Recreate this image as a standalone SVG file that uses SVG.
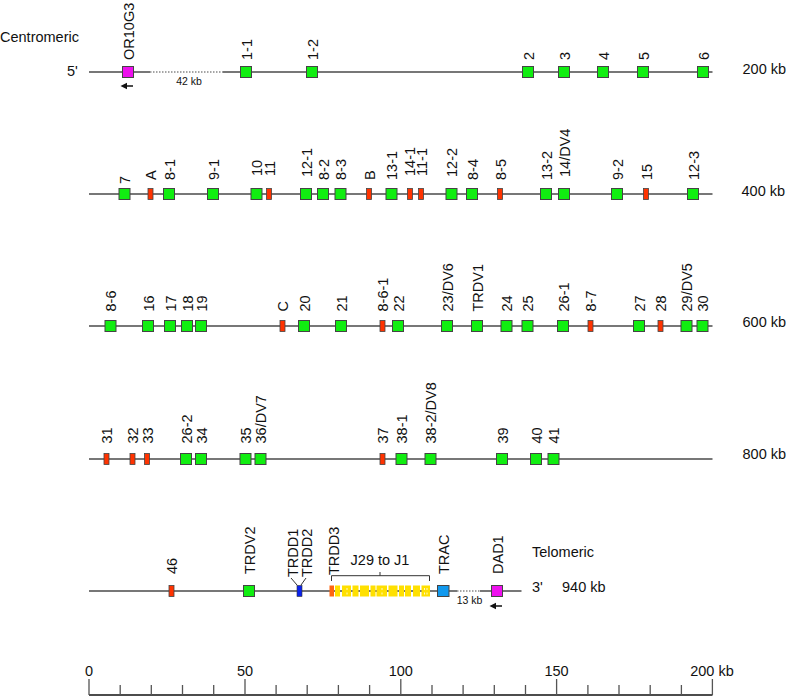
<svg xmlns="http://www.w3.org/2000/svg" width="786" height="696" viewBox="0 0 786 696">
<style>
text{font-family:"Liberation Sans",Arial,sans-serif;font-size:14.5px;fill:#111}
.sm{font-size:10.5px}
.ln{stroke:#4a4a4a;stroke-width:1.3;fill:none}
.dot{stroke:#888;stroke-width:1.3;stroke-dasharray:1.5 1.5;fill:none}
.g{fill:#11ee11;stroke:#444;stroke-width:1}
.r{fill:#ff3300;stroke:#444;stroke-width:0.8}
.m{fill:#ee11ee;stroke:#444;stroke-width:1}
.b{fill:#0a22ee;stroke:#333;stroke-width:0.6}
.o{fill:#ff6611;stroke:none}
.y{fill:#ffe000;stroke:none}
.c{fill:#1199ee;stroke:#444;stroke-width:1}
.tk{stroke:#555;stroke-width:1.3}
.ax{stroke:#111;stroke-width:1.3}
.br{stroke:#333;stroke-width:1;fill:none}
.arr{stroke:#111;stroke-width:1.5;fill:none}
</style>

<g id="connectors">
<line class="ln" x1="89" y1="72" x2="150" y2="72"/>
<line class="dot" x1="150" y1="72" x2="223" y2="72"/>
<line class="ln" x1="223" y1="72" x2="712.5" y2="72"/>
<line class="ln" x1="89" y1="194" x2="712.5" y2="194"/>
<line class="ln" x1="89" y1="326" x2="712.5" y2="326"/>
<line class="ln" x1="89" y1="459" x2="712.5" y2="459"/>
<line class="ln" x1="89" y1="591" x2="457" y2="591"/>
<line class="dot" x1="457" y1="591" x2="480" y2="591"/>
<line class="ln" x1="480" y1="591" x2="521.5" y2="591"/>
<line class="arr" x1="133" y1="86" x2="126" y2="86"/>
<path d="M120.5,86 L127,82.8 L127,89.2 Z" fill="#111"/>
<line class="arr" x1="502" y1="606" x2="496" y2="606"/>
<path d="M489.5,606 L496,602.8 L496,609.2 Z" fill="#111"/>
<line class="br" x1="291" y1="578" x2="297" y2="585"/>
<line class="br" x1="306" y1="578" x2="301" y2="585"/>
<path class="br" d="M331.5,581 V575.7 H429.5 V581 M380,575.7 V572"/>
</g>

<g id="labels">
<text x="0" y="41.7">Centromeric</text>
<text x="67" y="75.5">5'</text>
<text x="742.5" y="74">200 kb</text>
<text x="741.5" y="196">400 kb</text>
<text x="742.5" y="327">600 kb</text>
<text x="742.5" y="459">800 kb</text>
<text x="532" y="557">Telomeric</text>
<text x="532" y="592">3'</text>
<text x="562" y="592">940 kb</text>
<text class="sm" x="189" y="85" text-anchor="middle">42 kb</text>
<text class="sm" x="469.5" y="603.5" text-anchor="middle">13 kb</text>
<text x="380" y="565" text-anchor="middle">J29 to J1</text>
</g>

<g id="row1">
<g id="OR10G3"><rect class="m" x="122.5" y="66.5" width="11" height="11"/><text transform="translate(133.5,60) rotate(-90)">OR10G3</text></g>
<g id="V1-1"><rect class="g" x="240.5" y="66.5" width="11" height="11"/><text transform="translate(251.5,60) rotate(-90)">1-1</text></g>
<g id="V1-2"><rect class="g" x="306.5" y="66.5" width="11" height="11"/><text transform="translate(317.5,60) rotate(-90)">1-2</text></g>
<g id="V2"><rect class="g" x="522.5" y="66.5" width="11" height="11"/><text transform="translate(533.5,60) rotate(-90)">2</text></g>
<g id="V3"><rect class="g" x="558.5" y="66.5" width="11" height="11"/><text transform="translate(569.5,60) rotate(-90)">3</text></g>
<g id="V4"><rect class="g" x="597.5" y="66.5" width="11" height="11"/><text transform="translate(608.5,60) rotate(-90)">4</text></g>
<g id="V5"><rect class="g" x="637.5" y="66.5" width="11" height="11"/><text transform="translate(648.5,60) rotate(-90)">5</text></g>
<g id="V6"><rect class="g" x="697.5" y="66.5" width="11" height="11"/><text transform="translate(708.5,60) rotate(-90)">6</text></g>
</g>

<g id="row2">
<g id="V7"><rect class="g" x="119" y="188.5" width="11" height="11"/><text transform="translate(130,184) rotate(-90)">7</text></g>
<g id="VA"><rect class="r" x="148" y="188.5" width="5" height="11"/><text transform="translate(156,180) rotate(-90)">A</text></g>
<g id="V8-1"><rect class="g" x="163.5" y="188.5" width="11" height="11"/><text transform="translate(174.5,180) rotate(-90)">8-1</text></g>
<g id="V9-1"><rect class="g" x="207.5" y="188.5" width="11" height="11"/><text transform="translate(218.5,180) rotate(-90)">9-1</text></g>
<g id="V10"><rect class="g" x="251" y="188.5" width="11" height="11"/><text transform="translate(262,176) rotate(-90)">10</text></g>
<g id="V11"><rect class="r" x="266.5" y="188.5" width="5" height="11"/><text transform="translate(275,176) rotate(-90)">11</text></g>
<g id="V12-1"><rect class="g" x="300.5" y="188.5" width="11" height="11"/><text transform="translate(311.5,177) rotate(-90)">12-1</text></g>
<g id="V8-2"><rect class="g" x="317.5" y="188.5" width="11" height="11"/><text transform="translate(328.5,180) rotate(-90)">8-2</text></g>
<g id="V8-3"><rect class="g" x="335" y="188.5" width="11" height="11"/><text transform="translate(346,180) rotate(-90)">8-3</text></g>
<g id="VB"><rect class="r" x="366.5" y="188.5" width="5" height="11"/><text transform="translate(374.5,180) rotate(-90)">B</text></g>
<g id="V13-1"><rect class="g" x="386" y="188.5" width="11" height="11"/><text transform="translate(397,180) rotate(-90)">13-1</text></g>
<g id="V14-1"><rect class="r" x="407.5" y="188.5" width="5" height="11"/><text transform="translate(415,176) rotate(-90)">14-1</text></g>
<g id="V11-1"><rect class="r" x="418.5" y="188.5" width="5" height="11"/><text transform="translate(426.5,176) rotate(-90)">11-1</text></g>
<g id="V12-2"><rect class="g" x="446" y="188.5" width="11" height="11"/><text transform="translate(457,177) rotate(-90)">12-2</text></g>
<g id="V8-4"><rect class="g" x="466.5" y="188.5" width="11" height="11"/><text transform="translate(477.5,180) rotate(-90)">8-4</text></g>
<g id="V8-5"><rect class="r" x="497.5" y="188.5" width="5" height="11"/><text transform="translate(505.5,180) rotate(-90)">8-5</text></g>
<g id="V13-2"><rect class="g" x="540.5" y="188.5" width="11" height="11"/><text transform="translate(551.5,180) rotate(-90)">13-2</text></g>
<g id="V14DV4"><rect class="g" x="558.5" y="188.5" width="11" height="11"/><text transform="translate(569.5,177) rotate(-90)">14/DV4</text></g>
<g id="V9-2"><rect class="g" x="611.5" y="188.5" width="11" height="11"/><text transform="translate(622.5,180) rotate(-90)">9-2</text></g>
<g id="V15"><rect class="r" x="643.5" y="188.5" width="5" height="11"/><text transform="translate(651.5,180) rotate(-90)">15</text></g>
<g id="V12-3"><rect class="g" x="687.5" y="188.5" width="11" height="11"/><text transform="translate(698.5,180) rotate(-90)">12-3</text></g>
</g>

<g id="row3">
<g id="V8-6"><rect class="g" x="105" y="320.5" width="11" height="11"/><text transform="translate(116,311.5) rotate(-90)">8-6</text></g>
<g id="V16"><rect class="g" x="142.5" y="320.5" width="11" height="11"/><text transform="translate(153.5,311.5) rotate(-90)">16</text></g>
<g id="V17"><rect class="g" x="164.5" y="320.5" width="11" height="11"/><text transform="translate(175.5,311.5) rotate(-90)">17</text></g>
<g id="V18"><rect class="g" x="181.5" y="320.5" width="11" height="11"/><text transform="translate(192.5,311.5) rotate(-90)">18</text></g>
<g id="V19"><rect class="g" x="195.5" y="320.5" width="11" height="11"/><text transform="translate(206.5,311.5) rotate(-90)">19</text></g>
<g id="VC"><rect class="r" x="280" y="320.5" width="5" height="11"/><text transform="translate(288,311.5) rotate(-90)">C</text></g>
<g id="V20"><rect class="g" x="298.5" y="320.5" width="11" height="11"/><text transform="translate(309.5,311.5) rotate(-90)">20</text></g>
<g id="V21"><rect class="g" x="335.5" y="320.5" width="11" height="11"/><text transform="translate(346.5,311.5) rotate(-90)">21</text></g>
<g id="V8-6-1"><rect class="r" x="380" y="320.5" width="5" height="11"/><text transform="translate(388,311.5) rotate(-90)">8-6-1</text></g>
<g id="V22"><rect class="g" x="392.5" y="320.5" width="11" height="11"/><text transform="translate(403.5,311.5) rotate(-90)">22</text></g>
<g id="V23DV6"><rect class="g" x="441.5" y="320.5" width="11" height="11"/><text transform="translate(452.5,311.5) rotate(-90)">23/DV6</text></g>
<g id="TRDV1"><rect class="g" x="471.5" y="320.5" width="11" height="11"/><text transform="translate(482.5,311.5) rotate(-90)">TRDV1</text></g>
<g id="V24"><rect class="g" x="501" y="320.5" width="11" height="11"/><text transform="translate(512,311.5) rotate(-90)">24</text></g>
<g id="V25"><rect class="g" x="522" y="320.5" width="11" height="11"/><text transform="translate(533,311.5) rotate(-90)">25</text></g>
<g id="V26-1"><rect class="g" x="557.5" y="320.5" width="11" height="11"/><text transform="translate(568.5,311.5) rotate(-90)">26-1</text></g>
<g id="V8-7"><rect class="r" x="588" y="320.5" width="5" height="11"/><text transform="translate(596,311.5) rotate(-90)">8-7</text></g>
<g id="V27"><rect class="g" x="633.5" y="320.5" width="11" height="11"/><text transform="translate(644.5,311.5) rotate(-90)">27</text></g>
<g id="V28"><rect class="r" x="658" y="320.5" width="5" height="11"/><text transform="translate(666,311.5) rotate(-90)">28</text></g>
<g id="V29DV5"><rect class="g" x="681" y="320.5" width="11" height="11"/><text transform="translate(692,311.5) rotate(-90)">29/DV5</text></g>
<g id="V30"><rect class="g" x="697" y="320.5" width="11" height="11"/><text transform="translate(708,311.5) rotate(-90)">30</text></g>
</g>

<g id="row4">
<g id="V31"><rect class="r" x="104" y="453.5" width="5" height="11"/><text transform="translate(112,443.5) rotate(-90)">31</text></g>
<g id="V32"><rect class="r" x="130" y="453.5" width="5" height="11"/><text transform="translate(138,443.5) rotate(-90)">32</text></g>
<g id="V33"><rect class="r" x="144.5" y="453.5" width="5" height="11"/><text transform="translate(152.5,443.5) rotate(-90)">33</text></g>
<g id="V26-2"><rect class="g" x="180.5" y="453.5" width="11" height="11"/><text transform="translate(191.5,443.5) rotate(-90)">26-2</text></g>
<g id="V34"><rect class="g" x="195.5" y="453.5" width="11" height="11"/><text transform="translate(206.5,443.5) rotate(-90)">34</text></g>
<g id="V35"><rect class="g" x="240" y="453.5" width="11" height="11"/><text transform="translate(251,443.5) rotate(-90)">35</text></g>
<g id="V36DV7"><rect class="g" x="255" y="453.5" width="11" height="11"/><text transform="translate(266,443.5) rotate(-90)">36/DV7</text></g>
<g id="V37"><rect class="r" x="380" y="453.5" width="5" height="11"/><text transform="translate(388,443.5) rotate(-90)">37</text></g>
<g id="V38-1"><rect class="g" x="396" y="453.5" width="11" height="11"/><text transform="translate(407,443.5) rotate(-90)">38-1</text></g>
<g id="V38-2DV8"><rect class="g" x="425" y="453.5" width="11" height="11"/><text transform="translate(436,443.5) rotate(-90)">38-2/DV8</text></g>
<g id="V39"><rect class="g" x="496.5" y="453.5" width="11" height="11"/><text transform="translate(507.5,443.5) rotate(-90)">39</text></g>
<g id="V40"><rect class="g" x="530.5" y="453.5" width="11" height="11"/><text transform="translate(541.5,443.5) rotate(-90)">40</text></g>
<g id="V41"><rect class="g" x="548" y="453.5" width="11" height="11"/><text transform="translate(559,443.5) rotate(-90)">41</text></g>
</g>

<g id="row5">
<g id="V46"><rect class="r" x="169" y="585.5" width="5" height="11"/><text transform="translate(177,574) rotate(-90)">46</text></g>
<g id="TRDV2"><rect class="g" x="243.5" y="585.5" width="11" height="11"/><text transform="translate(254.5,574) rotate(-90)">TRDV2</text></g>
<g id="TRDD1-2"><rect class="b" x="297" y="585.5" width="5" height="11"/><text transform="translate(297.5,577) rotate(-90)">TRDD1</text><text transform="translate(311.5,577) rotate(-90)">TRDD2</text></g>
<g id="TRDD3"><rect class="o" x="329.5" y="585.5" width="4.5" height="11"/><text transform="translate(338.5,575) rotate(-90)">TRDD3</text></g>
<g id="J29toJ1">
<rect class="y" x="335" y="585.5" width="5" height="11"/>
<rect class="y" x="342" y="585.5" width="9" height="11"/>
<rect class="y" x="352.5" y="585.5" width="6" height="11"/>
<rect class="y" x="360" y="585.5" width="9" height="11"/>
<rect class="y" x="370.5" y="585.5" width="5" height="11"/>
<rect class="y" x="376.5" y="585.5" width="10.5" height="11"/>
<rect class="y" x="388.5" y="585.5" width="9" height="11"/>
<rect class="y" x="399" y="585.5" width="5" height="11"/>
<rect class="y" x="405" y="585.5" width="6" height="11"/>
<rect class="y" x="413" y="585.5" width="7" height="11"/>
<rect class="y" x="421.5" y="585.5" width="8.5" height="11"/>
<path d="M347,588 v2 M347,592.5 v2 M382,588 v2 M382,592.5 v2 M424.5,588 v2 M424.5,592.5 v2 M427,588 v2 M427,592.5 v2" stroke="#fff" stroke-width="0.8"/>
</g>
<g id="TRAC"><rect class="c" x="437.5" y="585.5" width="11.5" height="11"/><text transform="translate(449,574) rotate(-90)">TRAC</text></g>
<g id="DAD1"><rect class="m" x="491.5" y="585.5" width="11" height="11"/><text transform="translate(502.5,574) rotate(-90)">DAD1</text></g>
</g>

<g id="axis">
<line class="ax" x1="89" y1="695" x2="712.5" y2="695"/>
<path class="tk" d="M89,679 V695 M245,679 V695 M400.8,679 V695 M556.6,679 V695 M712.4,679 V695 M120.2,685 V695 M151.3,685 V695 M182.5,685 V695 M213.7,685 V695 M276.1,685 V695 M307.2,685 V695 M338.4,685 V695 M369.6,685 V695 M432,685 V695 M463.1,685 V695 M494.3,685 V695 M525.5,685 V695 M587.9,685 V695 M619,685 V695 M650.2,685 V695 M681.4,685 V695"/>
<text x="89" y="675.5" text-anchor="middle">0</text>
<text x="245" y="675.5" text-anchor="middle">50</text>
<text x="400.8" y="675.5" text-anchor="middle">100</text>
<text x="556.6" y="675.5" text-anchor="middle">150</text>
<text x="712" y="675.5" text-anchor="middle">200 kb</text>
</g>
</svg>
